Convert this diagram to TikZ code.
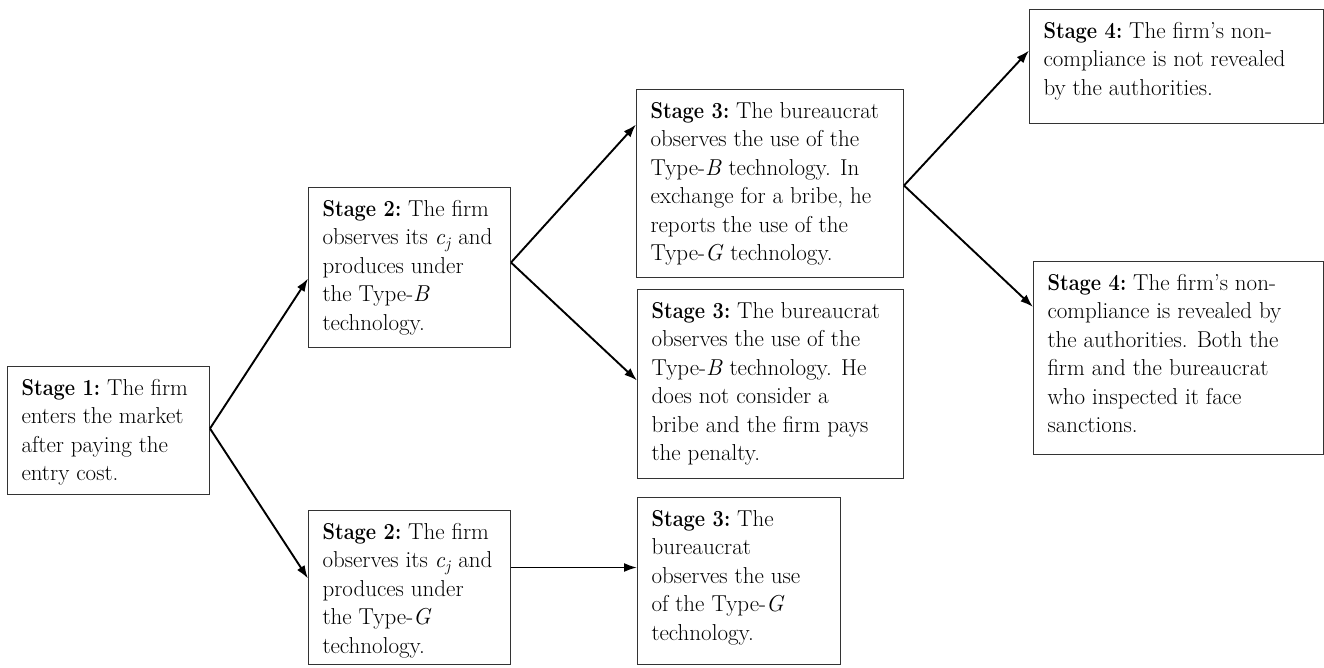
\documentclass[tikz,border=0pt]{standalone}
\usepackage{fontspec}
\usetikzlibrary{arrows.meta}
\newcommand{\stg}[3]{\parbox[c][#2][t]{#1}{\raggedright\leftskip=14pt\relax\parindent=0pt\fontsize{23}{28.5}\selectfont\rule{0pt}{28.5pt}#3\par}}
\newcommand{\cj}{\textit{c}\textsubscript{\textit{j}}}
\newcommand{\stlabel}[1]{\scalebox{0.87}[1]{\textbf{Stage #1:}}}
\begin{document}
\begin{tikzpicture}[x=1pt,y=-1pt,
  stage/.style={draw=black!80, line width=1pt, inner sep=0pt, anchor=north west},
  arr/.style={-{Latex[length=13pt,width=9pt]}, line width=1.9pt, black}]
\useasboundingbox (0,0) rectangle (1324,667);
\fill[white] (0,0) rectangle (1324,667);

\node[stage] (s1) at (7,366) {\stg{202pt}{128pt}{\stlabel{1} The firm\\ enters the market\\ after paying the\\ entry cost.}};
\node[stage] (s2b) at (308,187) {\stg{202pt}{160pt}{\stlabel{2} The firm\\ observes its \cj{} and\\ produces under\\ the Type-\textit{B}\\ technology.}};
\node[stage] (s2g) at (308,510) {\stg{202pt}{154pt}{\stlabel{2} The firm\\ observes its \cj{} and\\ produces under\\ the Type-\textit{G}\\ technology.}};
\node[stage] (s3a) at (636,89) {\stg{267pt}{188pt}{\stlabel{3} The bureaucrat\\ observes the use of the\\ Type-\textit{B} technology. In\\ exchange for a bribe, he\\ reports the use of the\\ Type-\textit{G} technology.}};
\node[stage] (s3b) at (637,289) {\stg{266pt}{189pt}{\stlabel{3} The bureaucrat\\ observes the use of the\\ Type-\textit{B} technology. He\\ does not consider a\\ bribe and the firm pays\\ the penalty.}};
\node[stage] (s3g) at (637,497) {\stg{203pt}{167pt}{\stlabel{3} The\\ bureaucrat\\ observes the use\\ of the Type-\textit{G}\\ technology.}};
\node[stage] (s4a) at (1029,9) {\stg{294pt}{114pt}{\stlabel{4} The firm’s non-\\ compliance is not revealed\\ by the authorities.}};
\node[stage] (s4b) at (1033,261) {\stg{290pt}{193pt}{\stlabel{4} The firm’s non-\\ compliance is revealed by\\ the authorities. Both the\\ firm and the bureaucrat\\ who inspected it face\\ sanctions.}};

\draw[arr] ([yshift=2pt]s1.east) -- ([yshift=-11pt]s2b.west);
\draw[arr] ([yshift=2pt]s1.east) -- ([yshift=9pt]s2g.west);
\draw[arr] ([yshift=5pt]s2b.east) -- ([yshift=59pt]s3a.west);
\draw[arr] ([yshift=5pt]s2b.east) -- ([yshift=3.5pt]s3b.west);
\draw[arr] ([yshift=20pt]s2g.east) -- ([yshift=13.5pt]s3g.west);
\draw[arr] ([yshift=-2pt]s3a.east) -- ([yshift=16pt]s4a.west);
\draw[arr] ([yshift=-2pt]s3a.east) -- ([yshift=51pt]s4b.west);
\end{tikzpicture}
\end{document}
